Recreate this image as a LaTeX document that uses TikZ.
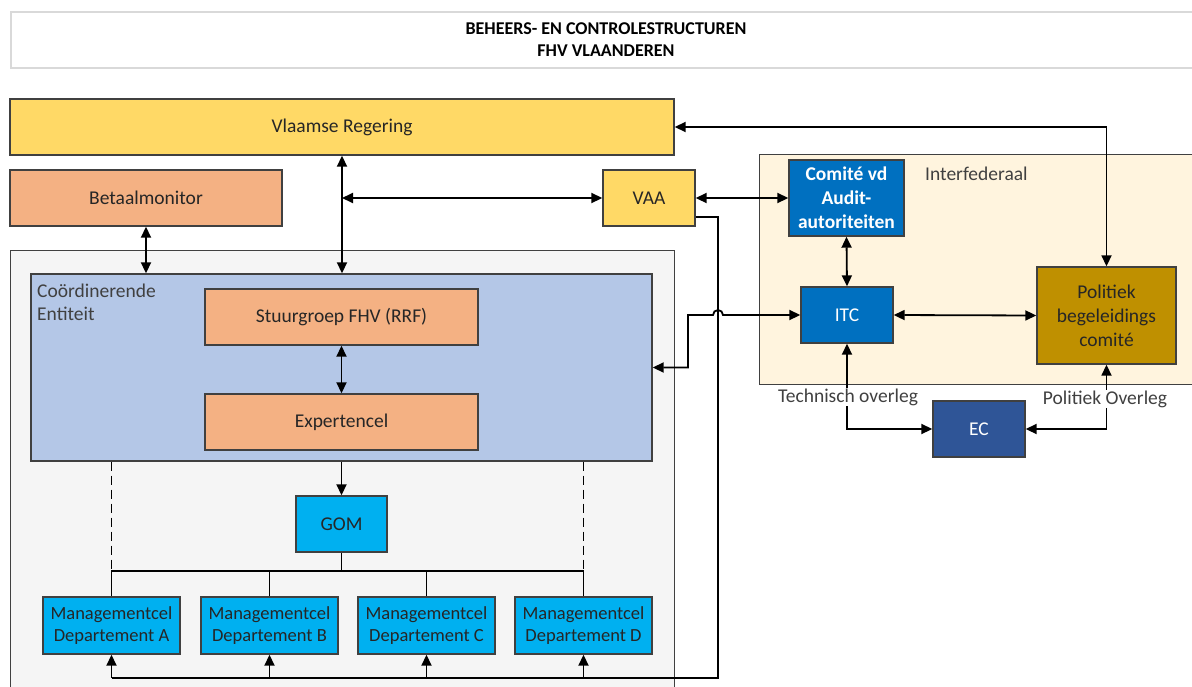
\documentclass[tikz,border=0pt]{standalone}
\usepackage{fontspec}
\setmainfont{Carlito}
\usetikzlibrary{arrows.meta}
\definecolor{cyel}{HTML}{FFD966}
\definecolor{csal}{HTML}{F4B183}
\definecolor{cgry}{HTML}{F5F5F5}
\definecolor{clbl}{HTML}{B4C7E7}
\definecolor{ccya}{HTML}{00B0F0}
\definecolor{cblu}{HTML}{0070C0}
\definecolor{cdbl}{HTML}{2F5597}
\definecolor{cgld}{HTML}{BF9000}
\definecolor{ccrm}{HTML}{FFF4DE}
\definecolor{ctxt}{HTML}{262626}
\definecolor{cbrd}{HTML}{404040}
\begin{document}
\begin{tikzpicture}[x=1pt,y=-1pt,
  box/.style={draw=cbrd, line width=1.4pt, inner sep=0pt, align=center,
    font=\fontsize{19.5}{24}\selectfont, text=ctxt},
  mbox/.style={box, fill=ccya, minimum width=137pt, minimum height=57pt,
    font=\fontsize{18.5}{22}\selectfont},
  lbl/.style={font=\fontsize{19.5}{23}\selectfont, text=cbrd, inner sep=1pt},
  tip/.tip={Triangle[length=11pt,width=10pt]},
  conn/.style={line width=1.8pt, -tip},
  dconn/.style={line width=1.8pt, tip-tip},
  plain/.style={line width=1.8pt}
]
\useasboundingbox (0,0) rectangle (1192,686);
% title
\node[draw=black!15, line width=2pt, minimum width=1190pt, minimum height=56pt, inner sep=0pt,
  align=center, font=\fontsize{18}{22}\selectfont\bfseries, text=black, anchor=north west]
  (title) at (10,11) {BEHEERS- EN CONTROLESTRUCTUREN\\FHV VLAANDEREN};
% top boxes
\node[box, fill=cyel, minimum width=664pt, minimum height=56pt] (vr) at (342,127) {Vlaamse Regering};
\node[box, fill=csal, minimum width=272pt, minimum height=56pt] (bm) at (146,198) {Betaalmonitor};
\node[box, fill=cyel, minimum width=92pt, minimum height=56pt] (vaa) at (649,198) {VAA};
% outer gray container
\node[draw=cbrd, line width=1.4pt, fill=cgry, minimum width=664pt, minimum height=460pt,
  inner sep=0pt, anchor=north west] (outer) at (10,250) {};
% coordinerende entiteit
\node[box, fill=clbl, minimum width=621pt, minimum height=187pt] (ce) at (341.5,367.5) {};
\node[lbl, align=left, anchor=north west] (celbl) at (36,283) {Coördinerende\\Entiteit};
\node[box, fill=csal, minimum width=273pt, minimum height=56pt] (sg) at (341.5,317) {Stuurgroep FHV (RRF)};
\node[box, fill=csal, minimum width=273pt, minimum height=56pt] (ex) at (341.5,422) {Expertencel};
\node[box, fill=ccya, minimum width=91pt, minimum height=56pt] (gom) at (341.5,524) {GOM};
\node[mbox] (mA) at (111.5,625.5) {Managementcel\\Departement A};
\node[mbox] (mB) at (269.5,625.5) {Managementcel\\Departement B};
\node[mbox] (mC) at (426.5,625.5) {Managementcel\\Departement C};
\node[mbox] (mD) at (583.5,625.5) {Managementcel\\Departement D};
% interfederaal
\node[draw=cbrd, line width=1.4pt, fill=ccrm, minimum width=450pt, minimum height=230pt,
  inner sep=0pt, anchor=north west] (inter) at (759,154) {};
\node[lbl, anchor=west] (interlbl) at (924,174) {Interfederaal};
\node[box, fill=cblu, text=white, font=\fontsize{19.5}{24}\selectfont\bfseries,
  minimum width=115pt, minimum height=76pt] (comite) at (846.5,198) {Comité vd\\Audit-\\autoriteiten};
\node[box, fill=cblu, text=white, minimum width=92pt, minimum height=56pt] (itc) at (847,315) {ITC};
\node[box, fill=cgld, minimum width=139pt, minimum height=97pt] (pbc) at (1106.5,315.5) {Politiek\\begeleidings\\comité};
\node[box, fill=cdbl, text=white, minimum width=92pt, minimum height=56pt] (ec) at (979,429) {EC};
% connectors
\draw[dconn] (vr.south) -- (vr.south |- ce.north);
\draw[dconn] (vr.south |- vaa.west) -- (vaa.west);
\draw[dconn] (bm.south) -- (bm.south |- ce.north);
\draw[dconn] (vaa.east) -- (comite.west);
\draw[dconn] (comite.south) -- (itc.north);
\draw[dconn] (itc.east) -- (pbc.west);
\draw[dconn] (pbc.north) |- (vr.east);
\draw[dconn] (sg.south) -- (ex.north);
\draw[conn] (ce.south) -- (gom.north);
% tree
\coordinate (bus) at (0,571);
\draw[plain] (gom.south) -- (gom.south |- bus);
\draw[plain] (mA.north) -- (mA.north |- bus) -- (mD.north |- bus) -- (mD.north);
\draw[plain] (mB.north) -- (mB.north |- bus);
\draw[plain] (mC.north) -- (mC.north |- bus);
\draw[plain, dash pattern=on 9pt off 5pt] (ce.south -| mA.north) -- (mA.north |- bus);
\draw[plain, dash pattern=on 9pt off 5pt] (ce.south -| mD.north) -- (mD.north |- bus);
% VAA to management cells
\coordinate (rv) at (718,678);
\draw[plain] ([yshift=-19pt]vaa.east) -| (rv) -- (mA.south |- rv);
\draw[conn] (mA.south |- rv) -- (mA.south);
\draw[conn] (mB.south |- rv) -- (mB.south);
\draw[conn] (mC.south |- rv) -- (mC.south);
\draw[conn] (mD.south |- rv) -- (mD.south);
% CE <-> ITC with hop
\draw[dconn] (ce.east) -- (688,367.5) -- (688,315) -- (713,315)
  arc[start angle=180, end angle=0, radius=5pt] -- (itc.west);
% overleg
\draw[dconn] (ec.west) -| (itc.south);
\draw[dconn] (ec.east) -| (pbc.south);
\node[lbl, fill=white] (tov) at (848,397) {Technisch overleg};
\node[lbl, fill=white] (pov) at (1105,399) {Politiek Overleg};
\end{tikzpicture}
\end{document}
